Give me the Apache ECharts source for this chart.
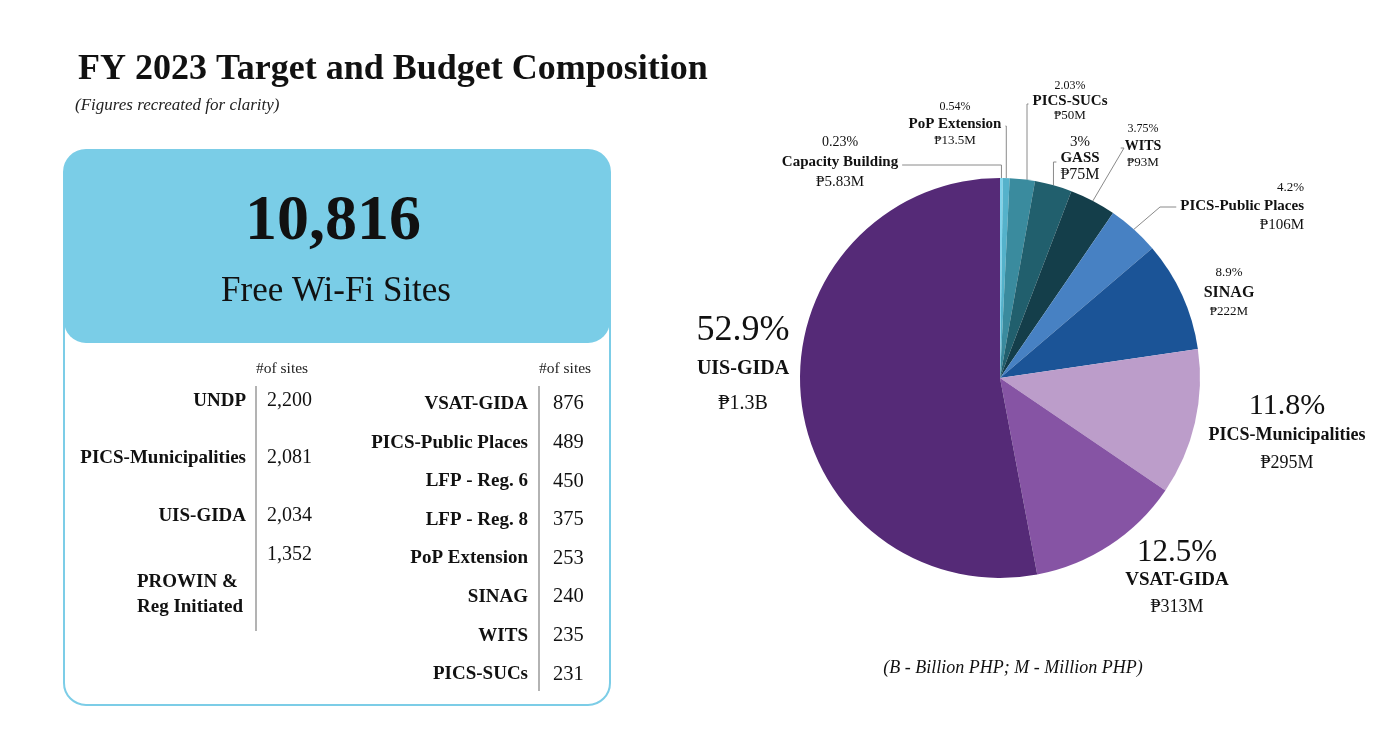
<!DOCTYPE html>
<html>
<head>
<meta charset="utf-8">
<script src="https://cdn.jsdelivr.net/npm/echarts@6/dist/echarts.min.js"></script>
<style>
html,body{margin:0;padding:0;background:#fff;}
#chart{width:1400px;height:734px;}
</style>
</head>
<body>
<div id="chart"></div>
<script>
// ---------- DATA ----------
const titleText = 'FY 2023 Target and Budget Composition';
const subtitleText = '(Figures recreated for clarity)';
const footnoteText = '(B - Billion PHP; M - Million PHP)';

const totalSites = 10816;
const totalSitesLabel = 'Free Wi-Fi Sites';
const sitesHeader = '#of sites';

const leftNames = ['UNDP', 'PICS-Municipalities', 'UIS-GIDA', 'PROWIN &\nReg Initiated'];
const leftSites = [2200, 2081, 2034, 1352];
const rightNames = ['VSAT-GIDA', 'PICS-Public Places', 'LFP - Reg. 6', 'LFP - Reg. 8', 'PoP Extension', 'SINAG', 'WITS', 'PICS-SUCs'];
const rightSites = [876, 489, 450, 375, 253, 240, 235, 231];

const categories = ['Capacity Building', 'PoP Extension', 'PICS-SUCs', 'GASS', 'WITS', 'PICS-Public Places', 'SINAG', 'PICS-Municipalities', 'VSAT-GIDA', 'UIS-GIDA'];
const sharePct = [0.23, 0.54, 2.03, 3, 3.75, 4.2, 8.9, 11.8, 12.5, 52.9];
const budgetLabels = ['₱5.83M', '₱13.5M', '₱50M', '₱75M', '₱93M', '₱106M', '₱222M', '₱295M', '₱313M', '₱1.3B'];

// ---------- STYLE / LAYOUT ----------
const FONT = "'Liberation Serif','DejaVu Serif',serif";
const sliceColors = ['#7fd3ea', '#55b2cb', '#3a8b9e', '#215f6d', '#143e4a', '#4781c3', '#1b5497', '#bc9dca', '#8654a4', '#552a77'];
const CX = 1000, CY = 378, R = 200;

const labelClass = [
  {p:14, n:15, v:15, lh:[20,20,20]},
  {p:12, n:15, v:13, lh:[17,17,17]},
  {p:12, n:15, v:13, lh:[15,15,15]},
  {p:15, n:15, v:16, lh:[16,16,17]},
  {p:12, n:14, v:13, lh:[17,17,17]},
  {p:13, n:15, v:15, lh:[19,19,18]},
  {p:13, n:16, v:13, lh:[20,20,19]},
  {p:30, n:18, v:18, lh:[30,28,28]},
  {p:31, n:19, v:18, lh:[28,27,27]},
  {p:36, n:20, v:20, lh:[40,36,34]}
];
const labelSpots = [
  {x:840,  y:162, align:'center', lineY:165, mode:'v'},
  {x:955,  y:124, align:'center', lineY:126, mode:'v'},
  {x:1070, y:101, align:'center', lineY:104, mode:'v', ax:1027},
  {x:1080, y:159, align:'center', lineY:162, mode:'v'},
  {x:1143, y:146, align:'center', lineY:148, mode:'d', ex:1124},
  {x:1304, y:206, align:'right',  lineY:207, mode:'d', ex:1160},
  {x:1229, y:292, align:'center'},
  {x:1287, y:434, align:'center'},
  {x:1177, y:580, align:'center'},
  {x:743,  y:366, align:'center'}
];

const total = sharePct.reduce((a, b) => a + b, 0);

const pieData = categories.map((name, i) => {
  const c = labelClass[i];
  const rich = {};
  rich['p' + i] = {fontFamily: FONT, fontSize: c.p, lineHeight: c.lh[0], color: '#111'};
  rich['n' + i] = {fontFamily: FONT, fontSize: c.n, fontWeight: 'bold', lineHeight: c.lh[1], color: '#111'};
  rich['v' + i] = {fontFamily: FONT, fontSize: c.v, lineHeight: c.lh[2], color: '#111'};
  return {
    name: name,
    value: sharePct[i],
    itemStyle: {color: sliceColors[i]},
    label: {
      formatter: '{p' + i + '|' + sharePct[i] + '%}\n{n' + i + '|' + name + '}\n{v' + i + '|' + budgetLabels[i] + '}',
      rich: rich
    },
    labelLine: {show: !!labelSpots[i].mode}
  };
});

function labelLayout(p) {
  const i = p.dataIndex;
  const s = labelSpots[i];
  const out = {x: s.x, y: s.y, align: s.align, verticalAlign: 'middle'};
  if (s.mode) {
    let cum = 0;
    for (let k = 0; k < i; k++) cum += sharePct[k];
    const th = (cum + sharePct[i] / 2) / total * Math.PI * 2;
    let ax = CX + R * Math.sin(th);
    let ay = CY - R * Math.cos(th);
    if (s.ax != null) { ax = s.ax; ay = CY - Math.sqrt(R * R - (ax - CX) * (ax - CX)); }
    const w = p.labelRect.width;
    let left, right;
    if (s.align === 'center') { left = s.x - w / 2; right = s.x + w / 2; }
    else if (s.align === 'right') { left = s.x - w; right = s.x; }
    else { left = s.x; right = s.x + w; }
    const elbowX = s.mode === 'v' ? ax : s.ex;
    const endX = elbowX < left ? left - 4 : right + 4;
    out.labelLinePoints = [[ax, ay], [elbowX, s.lineY], [endX, s.lineY]];
  }
  return out;
}

// ---------- GRAPHIC (left panel) ----------
const graphics = [];
graphics.push({type:'text', style:{text:titleText, x:78, y:70, font:'bold 36px ' + FONT, fill:'#111', align:'left', verticalAlign:'middle'}});
graphics.push({type:'text', style:{text:subtitleText, x:75, y:106, font:'italic 17px ' + FONT, fill:'#222', align:'left', verticalAlign:'middle'}});
graphics.push({type:'rect', shape:{x:64, y:150, width:546, height:555, r:22}, style:{fill:'#fff', stroke:'#7ccde7', lineWidth:2}});
graphics.push({type:'rect', shape:{x:64, y:150, width:546, height:193, r:[22,22,22,22]}, style:{fill:'#7acde7'}});
graphics.push({type:'text', style:{text:totalSites.toLocaleString('en-US'), x:333, y:222, font:'bold 64px ' + FONT, fill:'#111', align:'center', verticalAlign:'middle'}});
graphics.push({type:'text', style:{text:totalSitesLabel, x:336, y:292, font:'35px ' + FONT, fill:'#111', align:'center', verticalAlign:'middle'}});
graphics.push({type:'text', style:{text:sitesHeader, x:256, y:369, font:'15.5px ' + FONT, fill:'#222', align:'left', verticalAlign:'middle'}});
graphics.push({type:'text', style:{text:sitesHeader, x:539, y:369, font:'15.5px ' + FONT, fill:'#222', align:'left', verticalAlign:'middle'}});
graphics.push({type:'line', shape:{x1:256, y1:386, x2:256, y2:631}, style:{stroke:'#9a9a9a', lineWidth:1.5}});
graphics.push({type:'line', shape:{x1:539, y1:386, x2:539, y2:691}, style:{stroke:'#9a9a9a', lineWidth:1.5}});

const leftNameY = [401, 458, 516, 595];
const leftValY = [401, 458, 516, 555];
leftNames.forEach((n, i) => {
  const multi = n.indexOf('\n') >= 0;
  graphics.push({type:'text', style:{text:n, x: multi ? 137 : 246, y:leftNameY[i], font:'bold 19px ' + FONT, lineHeight:25, fill:'#111', align: multi ? 'left' : 'right', verticalAlign:'middle'}});
  graphics.push({type:'text', style:{text:leftSites[i].toLocaleString('en-US'), x:267, y:leftValY[i], font:'20px ' + FONT, fill:'#111', align:'left', verticalAlign:'middle'}});
});
rightNames.forEach((n, i) => {
  const y = 404 + i * 38.6;
  graphics.push({type:'text', style:{text:n, x:528, y:y, font:'bold 19px ' + FONT, fill:'#111', align:'right', verticalAlign:'middle'}});
  graphics.push({type:'text', style:{text:rightSites[i].toLocaleString('en-US'), x:553, y:y, font:'20.5px ' + FONT, fill:'#111', align:'left', verticalAlign:'middle'}});
});
graphics.push({type:'text', style:{text:footnoteText, x:1013, y:668, font:'italic 18px ' + FONT, fill:'#111', align:'center', verticalAlign:'middle'}});

// ---------- CHART ----------
const chart = echarts.init(document.getElementById('chart'), null, {renderer:'canvas'});
chart.setOption({
  backgroundColor: '#fff',
  animation: false,
  graphic: graphics,
  series: [{
    type: 'pie',
    center: [CX, CY],
    radius: R,
    startAngle: 90,
    clockwise: true,
    avoidLabelOverlap: false,
    silent: true,
    itemStyle: {borderWidth: 0},
    label: {show: true, position: 'outside', color: '#111'},
    labelLine: {show: true, lineStyle: {color: '#8a8a8a', width: 1}},
    labelLayout: labelLayout,
    data: pieData
  }]
});
</script>
</body>
</html>
